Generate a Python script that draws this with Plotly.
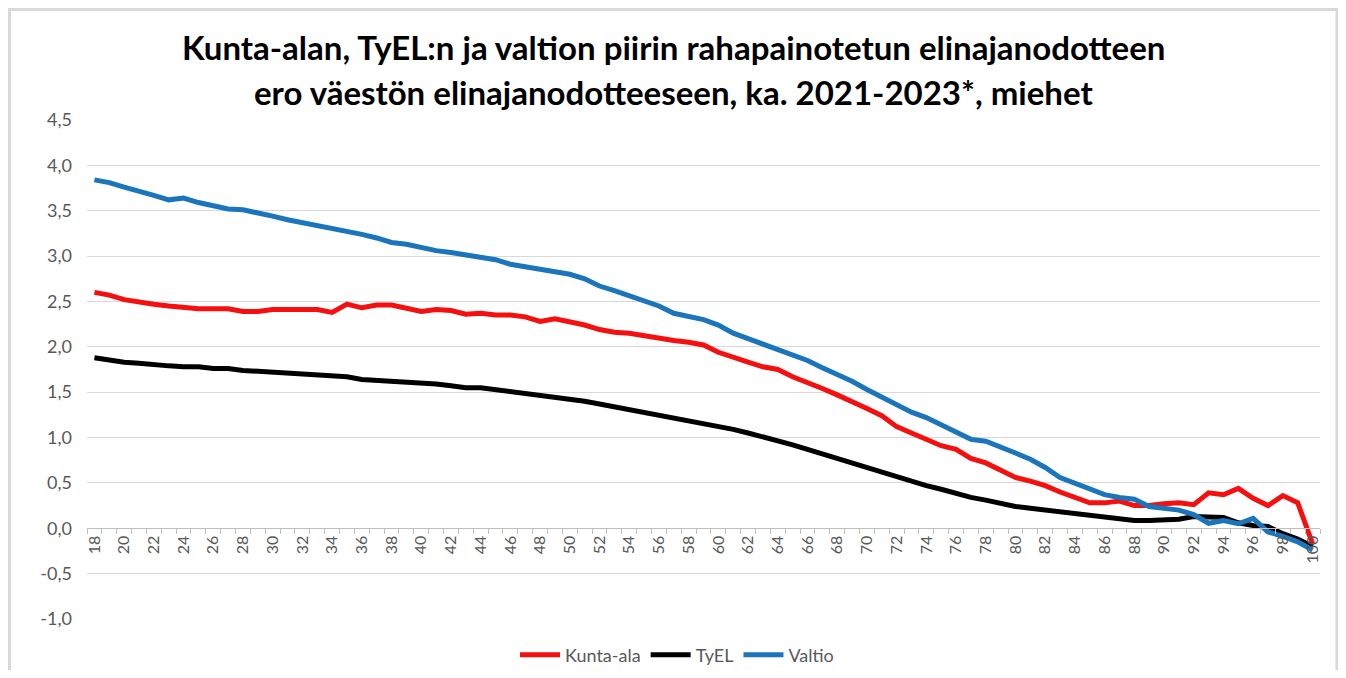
import plotly.graph_objects as go

# ---- data ----
ages = list(range(18, 101))

kunta_ala = [
    2.60, 2.57, 2.52, 2.49, 2.47, 2.45, 2.43, 2.42, 2.42, 2.42,
    2.39, 2.39, 2.41, 2.41, 2.41, 2.41, 2.38, 2.47, 2.43, 2.46,
    2.46, 2.43, 2.39, 2.41, 2.40, 2.36, 2.37, 2.35, 2.35, 2.33,
    2.28, 2.31, 2.28, 2.24, 2.19, 2.16, 2.15, 2.12, 2.09, 2.07,
    2.05, 2.02, 1.94, 1.88, 1.83, 1.78, 1.75, 1.67, 1.61, 1.54,
    1.47, 1.40, 1.32, 1.24, 1.12, 1.05, 0.98, 0.91, 0.87, 0.77,
    0.72, 0.64, 0.56, 0.52, 0.47, 0.40, 0.34, 0.28, 0.28, 0.30,
    0.25, 0.25, 0.27, 0.28, 0.26, 0.39, 0.37, 0.44, 0.33, 0.25,
    0.36, 0.28, -0.17,
]

tyel = [
    1.88, 1.85, 1.83, 1.82, 1.80, 1.79, 1.78, 1.78, 1.76, 1.76,
    1.74, 1.73, 1.72, 1.71, 1.70, 1.70, 1.68, 1.67, 1.64, 1.63,
    1.63, 1.61, 1.60, 1.59, 1.57, 1.55, 1.55, 1.53, 1.51, 1.49,
    1.47, 1.44, 1.42, 1.40, 1.37, 1.34, 1.31, 1.28, 1.25, 1.22,
    1.19, 1.16, 1.12, 1.09, 1.05, 1.01, 0.96, 0.92, 0.87, 0.82,
    0.77, 0.71, 0.66, 0.61, 0.56, 0.51, 0.47, 0.43, 0.38, 0.34,
    0.31, 0.27, 0.24, 0.22, 0.20, 0.18, 0.16, 0.14, 0.12, 0.10,
    0.085, 0.085, 0.09, 0.10, 0.13, 0.12, 0.12, 0.06, 0.03, 0.02,
    -0.06, -0.12, -0.20,
]

valtio = [
    3.84, 3.81, 3.76, 3.72, 3.67, 3.62, 3.64, 3.59, 3.55, 3.52,
    3.51, 3.48, 3.44, 3.40, 3.37, 3.34, 3.30, 3.27, 3.24, 3.20,
    3.15, 3.13, 3.09, 3.06, 3.04, 3.01, 2.99, 2.96, 2.91, 2.88,
    2.86, 2.83, 2.80, 2.75, 2.67, 2.62, 2.56, 2.51, 2.45, 2.37,
    2.34, 2.30, 2.24, 2.15, 2.09, 2.03, 1.98, 1.92, 1.85, 1.77,
    1.70, 1.62, 1.53, 1.45, 1.36, 1.28, 1.22, 1.14, 1.07, 0.98,
    0.96, 0.90, 0.83, 0.76, 0.67, 0.56, 0.50, 0.44, 0.37, 0.34,
    0.32, 0.24, 0.22, 0.20, 0.15, 0.055, 0.085, 0.05, 0.11, -0.04,
    -0.09, -0.15, -0.24,
]

x_tick_vals = ages[::2]
x_tick_text = [str(a) for a in x_tick_vals]

y_tick_vals = [-1.0, -0.5, 0.0, 0.5, 1.0, 1.5, 2.0, 2.5, 3.0, 3.5, 4.0, 4.5]
y_tick_text = ["-1,0", "-0,5", "0,0", "0,5", "1,0", "1,5",
               "2,0", "2,5", "3,0", "3,5", "4,0", "4,5"]

title_line1 = "Kunta-alan, TyEL:n ja valtion piirin rahapainotetun elinajanodotteen"
title_line2 = "ero väestön elinajanodotteeseen, ka. 2021-2023*, miehet"

# ---- styling / layout constants ----
OFF = 8                      # default page body margin of the html page
W, H = 1346 - 2 * OFF, 678 - 2 * OFF
ML, MT = 87 - OFF, 120 - OFF
PW, PH = 1233, 499
MR, MB = W - ML - PW, H - MT - PH
Y_MIN, Y_MAX = -1.0, 4.5
FONT = "Lato"
GRAY_TXT = "#595959"


def px_x(p):
    """page pixel x -> paper coordinate"""
    return (p - OFF - ML) / PW


def px_y(p):
    """page pixel y -> paper coordinate"""
    return (MT + PH - (p - OFF)) / PH


fig = go.Figure()
fig.add_trace(go.Scatter(x=ages, y=kunta_ala, mode="lines", name="Kunta-ala",
                         line=dict(color="#F50F0F", width=5)))
fig.add_trace(go.Scatter(x=ages, y=tyel, mode="lines", name="TyEL",
                         line=dict(color="#000000", width=5)))
fig.add_trace(go.Scatter(x=ages, y=valtio, mode="lines", name="Valtio",
                         line=dict(color="#1A75BC", width=5)))

fig.update_layout(
    width=W, height=H,
    margin=dict(l=ML, r=MR, t=MT, b=MB, pad=0, autoexpand=False),
    paper_bgcolor="white",
    plot_bgcolor="white",
    separators=", ",
    font=dict(family=FONT, color=GRAY_TXT, size=15),
    showlegend=True,
    legend=dict(orientation="h", xref="paper", yref="paper",
                x=px_x(677), xanchor="center", y=px_y(655), yanchor="middle",
                font=dict(family=FONT, size=18, color=GRAY_TXT),
                itemwidth=40, traceorder="normal", bgcolor="rgba(0,0,0,0)"),
    xaxis=dict(
        range=[17.5, 100.5],
        anchor="free",
        position=(0 - Y_MIN) / (Y_MAX - Y_MIN),
        tickmode="array", tickvals=x_tick_vals, ticktext=x_tick_text,
        tickangle=-90, ticks="", showgrid=False, zeroline=False,
        showline=True, linecolor="#BFBFBF", linewidth=1,
        tickfont=dict(family=FONT, size=16, color=GRAY_TXT),
        minor=dict(ticks="outside", tickmode="linear", tick0=17.5, dtick=1,
                   ticklen=5, tickcolor="#BFBFBF", tickwidth=1, showgrid=False),
    ),
    yaxis=dict(
        range=[Y_MIN, Y_MAX],
        tickmode="array", tickvals=y_tick_vals, ticktext=y_tick_text,
        showgrid=True, gridcolor="#D9D9D9", gridwidth=1,
        zeroline=False, showline=False, ticks="",
        ticklabelstandoff=14,
        tickfont=dict(family=FONT, size=18, color=GRAY_TXT),
    ),
)

fig.add_annotation(text="<b>" + title_line1 + "</b>", xref="paper", yref="paper",
                   x=px_x(673), y=px_y(47), xanchor="center", yanchor="middle",
                   showarrow=False, font=dict(family=FONT, size=33, color="#000000"))
fig.add_annotation(text="<b>" + title_line2 + "</b>", xref="paper", yref="paper",
                   x=px_x(673), y=px_y(92), xanchor="center", yanchor="middle",
                   showarrow=False, font=dict(family=FONT, size=33, color="#000000"))

# outer chart frame
fig.add_shape(type="rect", xref="paper", yref="paper",
              x0=px_x(9.5), x1=px_x(1337), y0=px_y(720), y1=px_y(9.5),
              line=dict(color="#D9D9D9", width=3), fillcolor="rgba(0,0,0,0)",
              layer="below")

fig.write_html("out.html")
